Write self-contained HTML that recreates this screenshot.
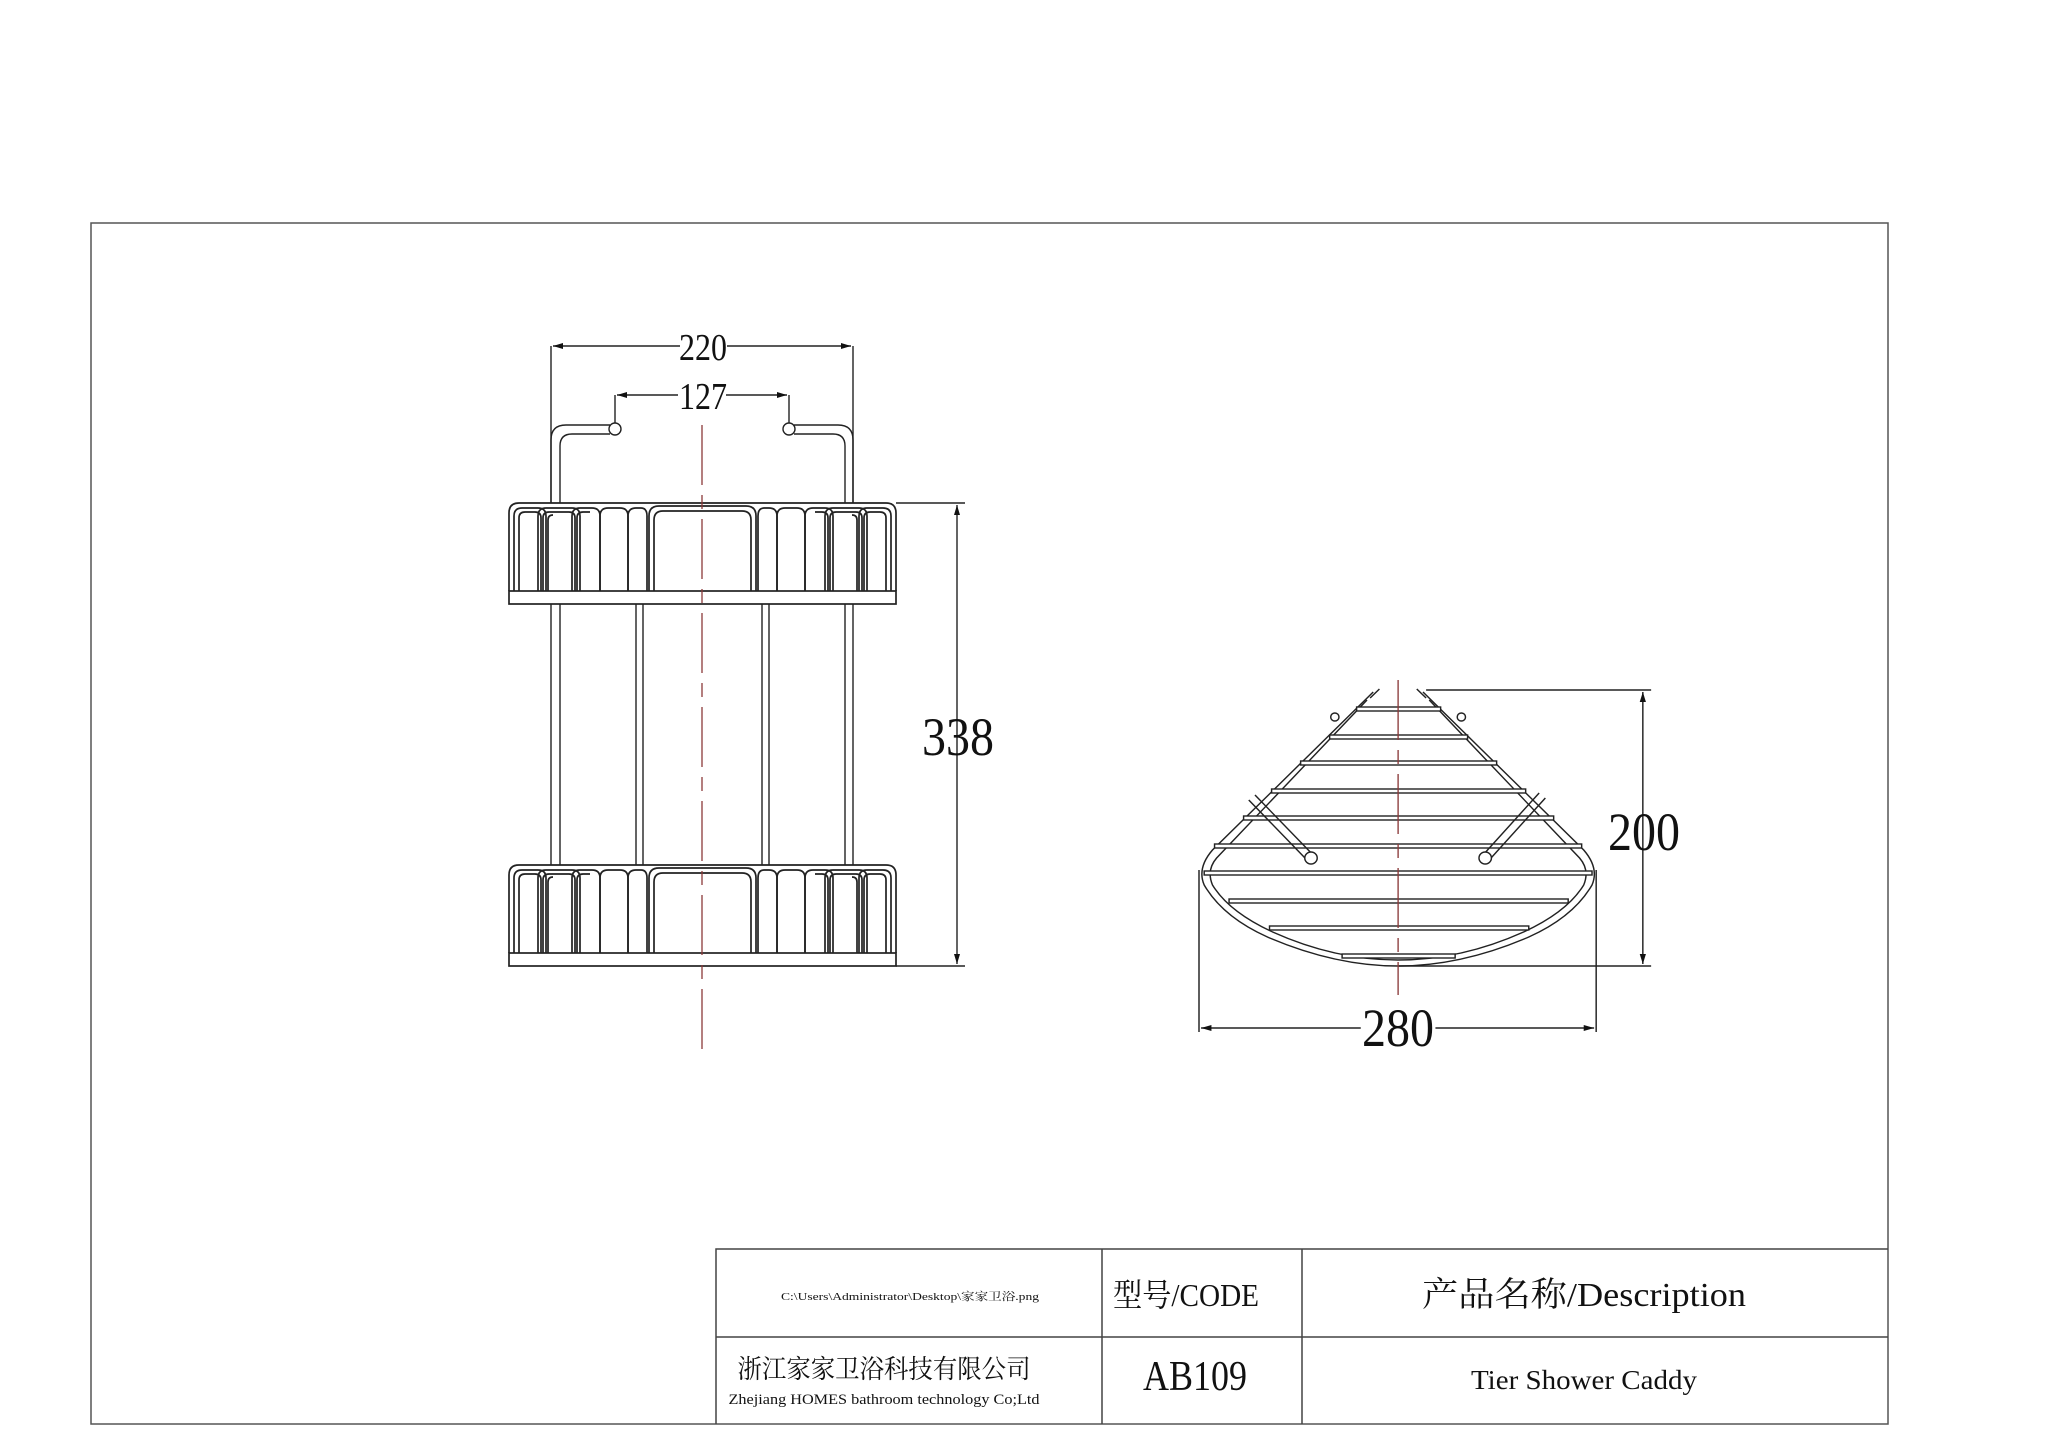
<!DOCTYPE html>
<html><head><meta charset="utf-8"><style>
html,body{margin:0;padding:0;background:#fff;}
svg{display:block;}
text{font-family:"Liberation Serif","Noto Serif CJK SC",serif;fill:#111;}
</style></head><body>
<svg width="2048" height="1447" viewBox="0 0 2048 1447" xmlns="http://www.w3.org/2000/svg">
<defs>
<marker id="ar" viewBox="0 0 10 6" refX="10" refY="3" markerWidth="14" markerHeight="6" markerUnits="userSpaceOnUse" orient="auto-start-reverse"><path d="M0,0 L10,3 L0,6 z" fill="#111"/></marker>
<g id="bask" fill="none" stroke="#222" stroke-width="1.7">
<path d="M509,591 V513 Q509,503 519,503 H886 Q896,503 896,513 V591"/>
<rect x="509" y="591" width="387" height="13" fill="#fff"/>
<path d="M514,591 V516 Q514,508 522,508 H538 Q546,508 546,516 V591"/>
<path d="M519,591 V518 Q519,512 525,512 H535 Q541,512 541,518 V591"/>
<path d="M538,591 V516 Q538,508 546,508 H572 Q580,508 580,516 V591"/>
<path d="M543,591 V518 Q543,512 549,512 H569 Q575,512 575,518 V591"/>
<path d="M548,591 V520 Q548,515 553,515"/>
<path d="M572,591 V516 Q572,508 580,508 H592 Q600,508 600,516 V591"/>
<path d="M577,591 V518 Q577,512 583,512 H590"/>
<path d="M600,591 V516 Q600,508 608,508 H620 Q628,508 628,516 V591"/>
<path d="M628,591 V516 Q628,508 636,508 H641 Q647,508 647,516 V591"/>
<path d="M649,591 V516 Q649,506 659,506 H746 Q756,506 756,516 V591"/>
<path d="M654,591 V520 Q654,511 663,511 H742 Q751,511 751,520 V591"/>
<path d="M891,591 V516 Q891,508 883,508 H867 Q859,508 859,516 V591"/>
<path d="M886,591 V518 Q886,512 880,512 H870 Q864,512 864,518 V591"/>
<path d="M867,591 V516 Q867,508 859,508 H833 Q825,508 825,516 V591"/>
<path d="M862,591 V518 Q862,512 856,512 H836 Q830,512 830,518 V591"/>
<path d="M857,591 V520 Q857,515 852,515"/>
<path d="M833,591 V516 Q833,508 825,508 H813 Q805,508 805,516 V591"/>
<path d="M828,591 V518 Q828,512 822,512 H815"/>
<path d="M805,591 V516 Q805,508 797,508 H785 Q777,508 777,516 V591"/>
<path d="M777,591 V516 Q777,508 769,508 H764 Q758,508 758,516 V591"/>
</g>
</defs>
<rect x="91" y="223" width="1797" height="1201" fill="none" stroke="#555" stroke-width="1.5"/>
<g stroke="#444" stroke-width="1.5" fill="none">
<path d="M716,1424 V1249 H1888"/>
<path d="M716,1337 H1888"/>
<path d="M1102,1249 V1424"/>
<path d="M1302,1249 V1424"/>
</g>
<text x="910" y="1300" font-size="11" text-anchor="middle" textLength="258" lengthAdjust="spacingAndGlyphs">C:\Users\Administrator\Desktop\家家卫浴.png</text>
<text x="1186" y="1306" font-size="32" text-anchor="middle" textLength="146" lengthAdjust="spacingAndGlyphs">型号/CODE</text>
<text x="1584" y="1306" font-size="34" text-anchor="middle" textLength="324" lengthAdjust="spacingAndGlyphs">产品名称/Description</text>
<text x="884" y="1378" font-size="26" text-anchor="middle" textLength="293" lengthAdjust="spacingAndGlyphs">浙江家家卫浴科技有限公司</text>
<text x="884" y="1404" font-size="15" text-anchor="middle" textLength="311" lengthAdjust="spacingAndGlyphs">Zhejiang HOMES bathroom technology Co;Ltd</text>
<text x="1195" y="1390" font-size="42" text-anchor="middle" textLength="104" lengthAdjust="spacingAndGlyphs">AB109</text>
<text x="1584" y="1389" font-size="27" text-anchor="middle" textLength="226" lengthAdjust="spacingAndGlyphs">Tier Shower Caddy</text>

<g stroke="#222" stroke-width="1.4" fill="none">
<line x1="551" y1="346" x2="551" y2="503"/>
<line x1="853" y1="346" x2="853" y2="503"/>
<line x1="553" y1="346" x2="680" y2="346" marker-start="url(#ar)"/>
<line x1="727" y1="346" x2="851" y2="346" marker-end="url(#ar)"/>
<line x1="615" y1="395" x2="615" y2="424"/>
<line x1="789" y1="395" x2="789" y2="424"/>
<line x1="617" y1="395" x2="678" y2="395" marker-start="url(#ar)"/>
<line x1="726" y1="395" x2="787" y2="395" marker-end="url(#ar)"/>
<line x1="896" y1="503" x2="965" y2="503"/>
<line x1="896" y1="966" x2="965" y2="966"/>
<line x1="957" y1="505" x2="957" y2="964" marker-start="url(#ar)" marker-end="url(#ar)"/>
<path d="M551,503 V440 Q551,425 566,425 H610"/>
<path d="M560,503 V446 Q560,434 572,434 H610"/>
<path d="M853,503 V440 Q853,425 838,425 H794"/>
<path d="M845,503 V446 Q845,434 833,434 H794"/>
<circle cx="615" cy="429" r="6" fill="#fff"/>
<circle cx="789" cy="429" r="6" fill="#fff"/>
<line x1="551" y1="604" x2="551" y2="865"/><line x1="560" y1="604" x2="560" y2="865"/>
<line x1="636" y1="604" x2="636" y2="865"/><line x1="643" y1="604" x2="643" y2="865"/>
<line x1="762" y1="604" x2="762" y2="865"/><line x1="769" y1="604" x2="769" y2="865"/>
<line x1="845" y1="604" x2="845" y2="865"/><line x1="853" y1="604" x2="853" y2="865"/>
</g>
<use href="#bask"/>
<use href="#bask" transform="translate(0,362)"/>
<line x1="702" y1="425" x2="702" y2="1050" stroke="#8b3a3a" stroke-width="1.3" stroke-dasharray="60,10,14,10"/>
<text x="703" y="360" font-size="38" text-anchor="middle" textLength="48" lengthAdjust="spacingAndGlyphs">220</text>
<text x="703" y="409" font-size="38" text-anchor="middle" textLength="48" lengthAdjust="spacingAndGlyphs">127</text>
<text x="958" y="755" font-size="54" text-anchor="middle" textLength="72" lengthAdjust="spacingAndGlyphs">338</text>

<g transform="translate(1199,0) scale(1.037,1) translate(-1199,0)">
<g stroke="#222" stroke-width="1.4" fill="none">
<line x1="1418" y1="690" x2="1635" y2="690"/>
<line x1="1391" y1="966" x2="1635" y2="966"/>
<line x1="1627" y1="692" x2="1627" y2="964" marker-start="url(#ar)" marker-end="url(#ar)"/>
<line x1="1199" y1="870" x2="1199" y2="1032"/>
<line x1="1582" y1="870" x2="1582" y2="1032"/>
<line x1="1201" y1="1028" x2="1355" y2="1028" marker-start="url(#ar)"/>
<line x1="1427" y1="1028" x2="1580" y2="1028" marker-end="url(#ar)"/>
<path d="M1367,692 L1212,850 Q1197,868 1204,885 Q1222,917 1265,937 Q1330,966 1391,966 Q1452,966 1517,937 Q1560,917 1578,885 Q1585,868 1570,850 L1415,692"/>
<path d="M1364,698 L1373,689 M1409,689 L1418,698"/>
<path d="M1361,700 L1216,858 Q1206,870 1212,885 Q1228,912 1270,932 Q1330,960 1391,960 Q1452,960 1512,932 Q1554,912 1570,885 Q1576,870 1566,858 L1421,700"/>
<g fill="#fff">
<rect x="1351" y="707" width="81" height="4"/>
<rect x="1325" y="735" width="133" height="4"/>
<rect x="1297" y="761" width="189" height="4"/>
<rect x="1269" y="789" width="245" height="4"/>
<rect x="1242" y="816" width="299" height="4"/>
<rect x="1214" y="844" width="354" height="4"/>
<rect x="1204" y="871" width="374" height="4"/>
<rect x="1228" y="899" width="327" height="4"/>
<rect x="1267" y="926" width="250" height="4"/>
<rect x="1337" y="954" width="109" height="4"/>
</g>
<path d="M1247,800 L1304,861 M1253,795 L1310,856"/>
<path d="M1533,798 L1478,861 M1527,793 L1472,856"/>
<circle cx="1307" cy="858" r="6" fill="#fff"/>
<circle cx="1475" cy="858" r="6" fill="#fff"/>
<circle cx="1330" cy="717" r="4" fill="#fff"/>
<circle cx="1452" cy="717" r="4" fill="#fff"/>
</g>
<line x1="1391" y1="680" x2="1391" y2="995" stroke="#8b3a3a" stroke-width="1.3" stroke-dasharray="60,10,14,10"/>
</g>
<text x="1644" y="850" font-size="54" text-anchor="middle" textLength="72" lengthAdjust="spacingAndGlyphs">200</text>
<text x="1398" y="1046" font-size="54" text-anchor="middle" textLength="72" lengthAdjust="spacingAndGlyphs">280</text>
</svg>
</body></html>
